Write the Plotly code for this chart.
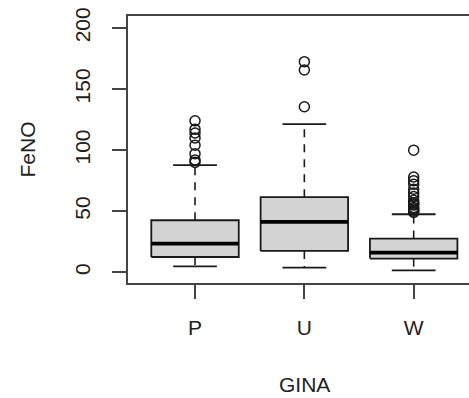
import plotly.graph_objects as go

# FeNO by GINA group: five-number summaries and outlying points
groups = ["P", "U", "W"]
q1 = [12.5, 17.5, 11.2]
medians = [23.5, 41.2, 16.1]
q3 = [42.6, 61.5, 27.6]
lower_whisker = [4.9, 3.8, 1.5]
upper_whisker = [87.7, 121.3, 47.5]
outliers = {
    "P": [90, 92, 97, 104, 110, 114, 117, 124],
    "U": [135.5, 165.6, 172.4],
    "W": [49, 50, 51, 52, 53, 55, 56, 57, 59, 62, 65, 68, 72, 75, 78, 100],
}
y_ticks = [0, 50, 100, 150, 200]

BOX_W = 0.8
CAP_W = 0.4
LINE = "#1a1a1a"
FILL = "#d3d3d3"
AXIS = "#444444"
FONT = dict(family="Liberation Sans, Arial, sans-serif", size=21, color="#222222")

fig = go.Figure()

for i, g in enumerate(groups):
    x = i + 1
    l, r = x - BOX_W / 2, x + BOX_W / 2
    # dashed whiskers
    for y0, y1 in ((q3[i], upper_whisker[i]), (q1[i], lower_whisker[i])):
        fig.add_trace(go.Scatter(x=[x, x], y=[y0, y1], mode="lines",
                                 line=dict(color=LINE, width=1.6, dash="8px,7px"),
                                 hoverinfo="skip", showlegend=False))
    # staples
    for yv in (upper_whisker[i], lower_whisker[i]):
        fig.add_trace(go.Scatter(x=[x - CAP_W / 2, x + CAP_W / 2], y=[yv, yv], mode="lines",
                                 line=dict(color=LINE, width=1.8),
                                 hoverinfo="skip", showlegend=False))
    # box
    fig.add_trace(go.Scatter(x=[l, r, r, l, l], y=[q1[i], q1[i], q3[i], q3[i], q1[i]],
                             mode="lines", fill="toself", fillcolor=FILL,
                             line=dict(color=LINE, width=1.8),
                             hoverinfo="skip", showlegend=False))
    # median
    fig.add_trace(go.Scatter(x=[l, r], y=[medians[i], medians[i]], mode="lines",
                             line=dict(color="#000000", width=3.8),
                             hoverinfo="skip", showlegend=False))
    # outliers
    fig.add_trace(go.Scatter(x=[x] * len(outliers[g]), y=outliers[g], mode="markers",
                             marker=dict(symbol="circle-open", size=10, color=LINE,
                                         line=dict(width=1.5, color=LINE)),
                             showlegend=False))

fig.update_layout(
    width=469, height=398,
    margin=dict(l=128, r=0, t=16, b=115),
    paper_bgcolor="white", plot_bgcolor="white",
    font=FONT,
    xaxis=dict(range=[0.387, 3.506], tickvals=[1, 2, 3], ticktext=groups,
               ticks="outside", ticklen=14, tickwidth=1.8, tickcolor=AXIS,
               showline=True, linecolor=AXIS, linewidth=1.8, mirror=True,
               showgrid=False, zeroline=False, tickfont=FONT, ticklabelstandoff=11),
    yaxis=dict(range=[-8.77, 209.8], tickvals=y_ticks,
               ticks="outside", ticklen=14, tickwidth=1.8, tickcolor=AXIS,
               showline=True, linecolor=AXIS, linewidth=1.8,
               showgrid=False, zeroline=False, tickangle=-90, tickfont=FONT,
               ticklabelstandoff=14),
    annotations=[
        dict(text="FeNO", xref="paper", yref="paper", x=0, y=0.5, xshift=-101,
             xanchor="center", yanchor="middle", textangle=-90, showarrow=False, font=FONT),
        dict(text="GINA", xref="x", yref="paper", x=2, y=0, yshift=-101,
             xanchor="center", yanchor="middle", showarrow=False, font=FONT),
    ],
)

fig.write_html("out.html")
